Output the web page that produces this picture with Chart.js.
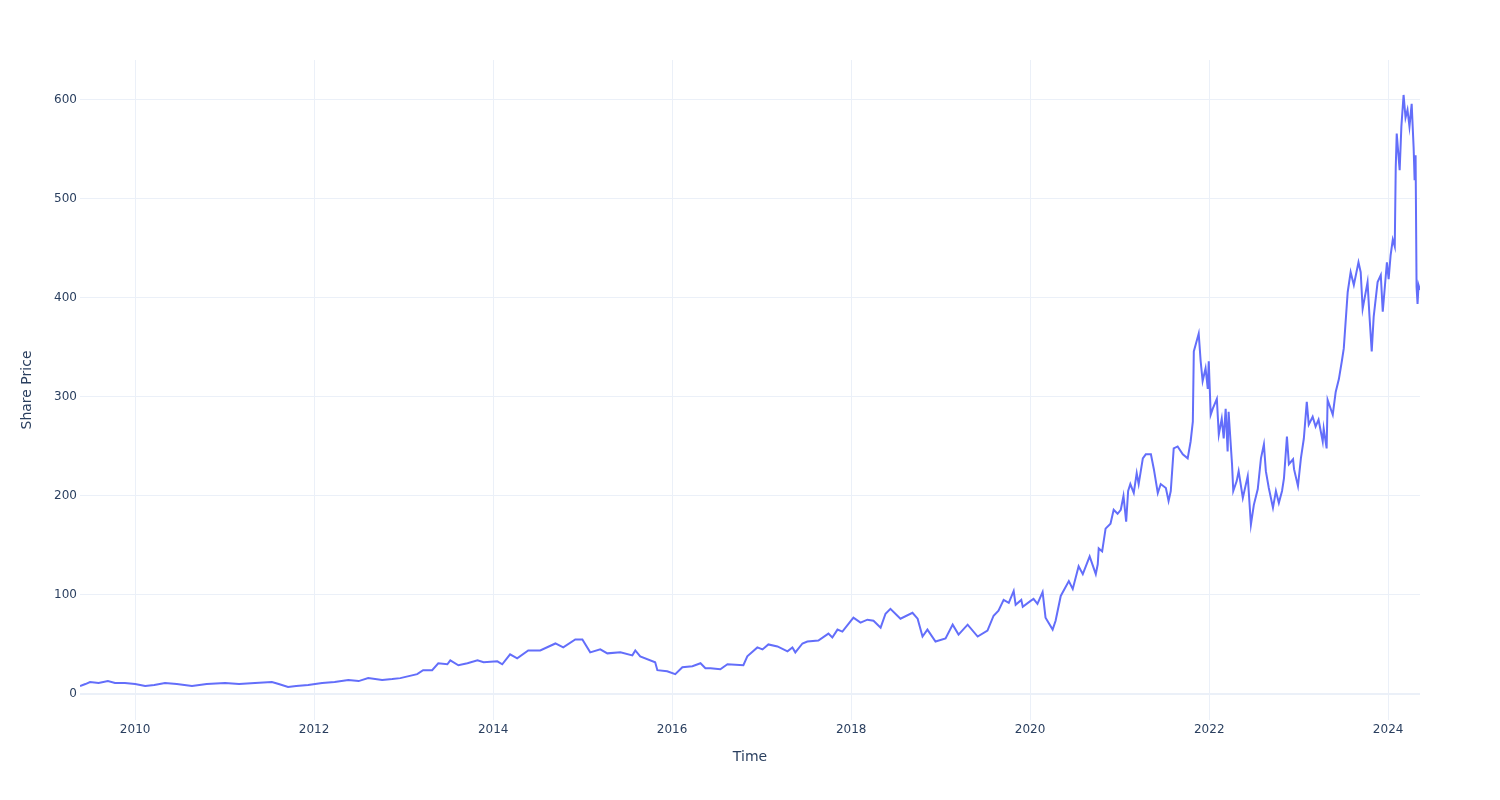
<!DOCTYPE html>
<html>
<head>
<meta charset="utf-8">
<title>Share Price</title>
<script src="https://cdn.jsdelivr.net/npm/chart.js@4/dist/chart.umd.min.js"></script>
<style>
  html,body{margin:0;padding:0;background:#fff;}
  #wrap{width:1500px;height:800px;}
</style>
</head>
<body>
<div id="wrap"><canvas id="chart" width="1500" height="800"></canvas></div>
<script>
/* ===== Data ===== */
const dates = [
  '2009-05-21','2009-06-12','2009-07-01','2009-08-05','2009-09-12','2009-10-11','2009-11-20',
  '2010-01-01','2010-02-11','2010-03-20','2010-05-03','2010-06-20','2010-08-21','2010-10-20',
  '2011-01-03','2011-03-01','2011-05-05','2011-07-13','2011-08-10','2011-09-17','2011-10-20','2011-12-08',
  '2012-02-03','2012-03-25','2012-05-20','2012-07-01','2012-08-09','2012-10-05','2012-11-15','2012-12-18',
  '2013-02-25','2013-03-21','2013-04-27','2013-05-22','2013-06-28','2013-07-10','2013-08-12','2013-09-18',
  '2013-10-29','2013-11-23','2014-01-18','2014-02-07','2014-03-11','2014-04-09','2014-05-24','2014-07-12',
  '2014-09-12','2014-10-14','2014-12-02','2014-12-31','2015-02-01','2015-03-14','2015-04-12','2015-06-04',
  '2015-07-23','2015-08-04','2015-08-24','2015-10-24','2015-11-02','2015-12-12','2016-01-14','2016-02-12',
  '2016-03-24','2016-04-26','2016-05-16','2016-06-06','2016-07-16','2016-08-14','2016-10-18','2016-11-03',
  '2016-12-14','2017-01-04','2017-01-28','2017-03-06','2017-04-16','2017-05-06','2017-05-18','2017-06-16',
  '2017-07-06','2017-08-20','2017-09-30','2017-10-16','2017-11-06','2017-11-26','2018-01-10','2018-02-08',
  '2018-03-08','2018-04-02','2018-05-01','2018-05-21','2018-06-10','2018-07-21','2018-09-08','2018-09-29',
  '2018-10-19','2018-11-08','2018-12-11','2019-01-21','2019-02-19','2019-03-15','2019-04-21','2019-06-01',
  '2019-07-11','2019-08-05','2019-08-25','2019-09-15','2019-10-06','2019-10-26','2019-11-03','2019-11-26',
  '2019-12-02','2020-01-03','2020-01-15','2020-01-31','2020-02-21','2020-03-04','2020-04-02','2020-04-14',
  '2020-05-05','2020-06-07','2020-06-23','2020-07-17','2020-08-03','2020-08-31','2020-09-25','2020-10-03',
  '2020-10-07','2020-10-21','2020-11-04','2020-11-24','2020-12-07','2020-12-23','2021-01-05','2021-01-16',
  '2021-01-27','2021-02-04','2021-02-13','2021-02-27','2021-03-11','2021-03-19','2021-04-05','2021-04-17',
  '2021-05-08','2021-05-20','2021-06-05','2021-06-17','2021-07-08','2021-07-19','2021-07-28','2021-08-09',
  '2021-08-25','2021-09-15','2021-10-05','2021-10-17','2021-10-26','2021-10-30','2021-11-19','2021-11-27',
  '2021-12-05','2021-12-17','2021-12-26','2021-12-30','2022-01-07','2022-01-15','2022-02-01','2022-02-09',
  '2022-02-21','2022-03-01','2022-03-09','2022-03-17','2022-03-21','2022-04-04','2022-04-09','2022-04-23',
  '2022-05-01','2022-05-18','2022-06-07','2022-06-20','2022-07-02','2022-07-18','2022-07-31','2022-08-12',
  '2022-08-20','2022-09-01','2022-09-18','2022-09-30','2022-10-12','2022-10-25','2022-11-02','2022-11-14',
  '2022-11-22','2022-12-09','2022-12-13','2022-12-29','2023-01-10','2023-01-22','2023-02-03','2023-02-11',
  '2023-02-27','2023-03-11','2023-03-23','2023-04-09','2023-04-13','2023-04-25','2023-04-29','2023-05-20',
  '2023-06-01','2023-06-14','2023-06-26','2023-07-04','2023-07-20','2023-08-01','2023-08-14','2023-09-02',
  '2023-09-11','2023-09-19','2023-10-09','2023-10-17','2023-10-26','2023-11-03','2023-11-19','2023-12-02',
  '2023-12-10','2023-12-27','2024-01-03','2024-01-11','2024-01-20','2024-01-28','2024-02-01','2024-02-05',
  '2024-02-17','2024-02-24','2024-03-04','2024-03-12','2024-03-20','2024-03-28','2024-04-06','2024-04-14',
  '2024-04-18','2024-04-22','2024-04-26','2024-04-30','2024-05-04','2024-05-10'
];
const prices = [
  8,10,12,11,13,11,11,
  10,8,9,11,10,8,10,
  11,10,11,12,10,7,8,9,
  11,12,14,13,16,14,15,16,
  20,24,24,31,30,34,29,31,
  34,32,33,30,40,36,44,44,
  51,47,55,55,42,45,41,42,
  39,44,38,32,24,23,20,27,
  28,31,26,26,25,30,29,38,
  47,45,50,48,43,47,42,51,
  53,54,61,57,65,63,77,72,
  75,74,67,81,86,76,82,76,
  58,65,53,56,70,60,70,58,
  64,79,84,95,92,104,90,95,
  88,94,96,91,103,77,65,74,
  99,114,106,129,121,139,121,131,
  147,144,167,172,186,182,186,200,
  174,205,212,203,223,212,238,242,
  242,227,203,212,208,195,205,248,
  250,242,238,255,275,346,364,336,
  316,329,308,336,282,288,298,262,
  278,258,288,245,285,232,205,215,
  225,198,220,171,191,207,238,252,
  225,208,188,205,193,205,218,260,
  232,237,227,210,238,258,295,272,
  280,270,277,255,268,248,297,282,
  305,318,336,349,406,426,413,436,
  426,389,416,381,346,381,416,423,
  386,436,419,443,459,452,532,566,
  529,573,605,582,590,573,596,552,
  519,544,411,394,413,408
];
const yearTicks = [2010,2012,2014,2016,2018,2020,2022,2024];
const priceTicks = [0,100,200,300,400,500,600];

/* ===== Helpers ===== */
function toMs(s){ const [y,m,d]=s.split('-').map(Number); return Date.UTC(y,m-1,d); }
const INK='#2a3f5f', GRID='#ebf0f8', LINE='#636efa';
const FONT='"DejaVu Sans", Verdana, Arial, sans-serif';

const points = dates.map((d,i)=>({x:toMs(d), y:prices[i]}));

/* ===== Chart ===== */
new Chart(document.getElementById('chart').getContext('2d'),{
  type:'line',
  data:{datasets:[{
    data:points,
    borderColor:LINE,
    borderWidth:2,
    pointRadius:0,
    tension:0,
    fill:false
  }]},
  options:{
    responsive:false,
    animation:false,
    layout:{padding:{top:60,right:80,left:0,bottom:0}},
    plugins:{legend:{display:false},tooltip:{enabled:false}},
    scales:{
      x:{
        type:'linear',
        min:toMs(dates[0]),
        max:toMs(dates[dates.length-1]),
        afterFit:(s)=>{ s.height=80; },
        afterBuildTicks:(s)=>{ s.ticks=yearTicks.map(y=>({value:Date.UTC(y,0,1)})); },
        border:{display:false},
        grid:{color:GRID,lineWidth:1,drawTicks:false},
        ticks:{
          autoSkip:false,maxRotation:0,padding:3,
          color:INK,font:{family:FONT,size:12},
          callback:(v)=>String(new Date(v).getUTCFullYear())
        },
        title:{display:true,text:'Time',color:INK,font:{family:FONT,size:14},padding:{top:0,bottom:34}}
      },
      y:{
        min:-26.3,
        max:640.3,
        afterFit:(s)=>{ s.width=80; },
        afterBuildTicks:(s)=>{ s.ticks=priceTicks.map(v=>({value:v})); },
        border:{display:false},
        grid:{color:GRID,lineWidth:(c)=>c.tick&&c.tick.value===0?2:1,drawTicks:false},
        ticks:{padding:3,color:INK,font:{family:FONT,size:12}},
        title:{display:true,text:'Share Price',color:INK,font:{family:FONT,size:14},padding:{top:19,bottom:0}}
      }
    }
  }
});
</script>
</body>
</html>
